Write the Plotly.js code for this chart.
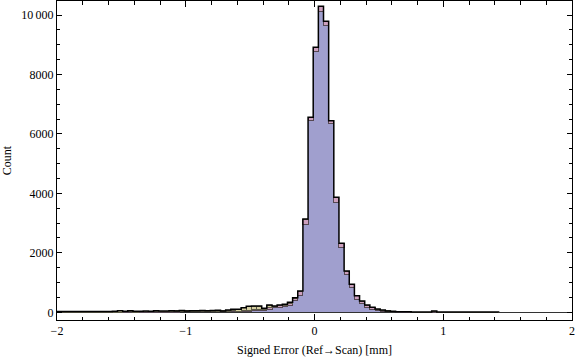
<!DOCTYPE html>
<html>
<head>
<meta charset="utf-8">
<script src="https://cdn.plot.ly/plotly-3.0.1.min.js"></script>
<style>html,body{margin:0;padding:0;background:#fff;}#chart{width:576px;height:359px;}</style>
</head>
<body>
<div id="chart"></div>
<script>
// Histogram bin specification (left edge of first bin, bin width) in mm
var binStart = -2.01;
var binWidth = 0.04;

// Counts per bin, three stacked series
var countsBlue = [3,3,3,4,3,4,4,4,4,5,5,5,5,6,6,6,7,7,8,8,9,9,10,10,11,12,13,14,15,
  16,18,20,20,25,28,22,30,36,45,60,77,110,145,168,188,245,390,582,2970,6468,
  8766,10134,9645,6357,3700,2196,1255,827,447,280,168,100,60,34,20,15,9,7,6,4,
  2,2,2,3,2,2,2,2,2,2,2,2,2,2,2,1];
var countsPink = [3,3,4,3,4,3,3,4,4,3,4,4,4,5,5,4,5,5,5,6,6,6,6,7,7,7,8,8,9,
  9,10,11,10,12,18,18,25,30,35,40,30,40,35,45,50,60,75,105,135,80,
  140,150,140,85,165,122,131,112,108,97,75,66,49,41,22,17,9,8,7,4,
  2,2,2,35,2,2,2,2,2,2,2,2,2,2,2,2];
var countsTan = [22,20,24,18,22,20,20,22,23,19,22,25,45,28,42,24,22,30,26,42,25,28,36,27,42,27,30,32,34,
  30,32,34,15,40,54,60,100,134,132,112,28,95,32,32,31,31,26,29,33,11,
  7,9,5,3,3,3,3,3,3,3,2,2,2,2,2,2,2,2,2,2,
  4,4,4,4,4,4,4,4,4,4,4,4,4,4,4,4];

// Axis tick labels
var xTickVals = [-2,-1,0,1,2];
var xTickText = ["\u22122","\u22121","0","1","2"];
var yTickVals = [0,2000,4000,6000,8000,10000];
var yTickText = ["0","2000","4000","6000","8000","10\u2009000"];

var xTitle = "Signed Error (Ref\u2192Scan) [mm]";
var yTitle = "Count";

var n = countsBlue.length;
var centers = [], edges = [], totals = [];
for (var k = 0; k < n; k++) {
  centers.push(binStart + binWidth * (k + 0.5));
  totals.push(countsBlue[k] + countsPink[k] + countsTan[k]);
}
for (var k = 0; k <= n; k++) edges.push(binStart + binWidth * k);

// step outline of the total
var ox = [edges[0]], oy = [0];
for (var k = 0; k < n; k++) { ox.push(edges[k]); oy.push(totals[k]); }
ox.push(edges[n]); oy.push(totals[n - 1]);
ox.push(edges[n]); oy.push(0);

var font = "Liberation Serif, Times New Roman, serif";

var traces = [
  {type: "bar", x: centers, y: countsBlue, width: binWidth,
   marker: {color: "rgb(160,159,206)", line: {width: 0}}, hoverinfo: "skip"},
  {type: "bar", x: centers, y: countsPink, width: binWidth,
   marker: {color: "rgb(205,160,190)", line: {width: 1, color: "rgb(85,72,82)"}}, hoverinfo: "skip"},
  {type: "bar", x: centers, y: countsTan, width: binWidth,
   marker: {color: "rgb(212,206,160)", line: {width: 1, color: "rgb(92,90,72)"}}, hoverinfo: "skip"},
  {type: "scatter", mode: "lines", x: ox, y: oy,
   line: {shape: "hv", color: "#000", width: 1.5}, hoverinfo: "skip"}
];

var layout = {
  width: 576, height: 359,
  margin: {l: 57, r: 4, t: 1, b: 39},
  paper_bgcolor: "#fff", plot_bgcolor: "#fff",
  showlegend: false,
  barmode: "stack", bargap: 0,
  font: {family: font, size: 12, color: "#000"},
  xaxis: {
    range: [-2, 2],
    tickmode: "array", tickvals: xTickVals, ticktext: xTickText,
    ticks: "inside", ticklen: 6, tickwidth: 1, tickcolor: "#000",
    minor: {dtick: 0.2, tick0: 0, ticks: "inside", ticklen: 3.5, tickcolor: "#000", tickwidth: 1},
    showline: true, linecolor: "#000", linewidth: 1, mirror: "allticks",
    showgrid: false, zeroline: false,
    tickfont: {family: font, size: 12, color: "#000"},
    title: {text: xTitle, font: {family: font, size: 12, color: "#000"}, standoff: 8},
    automargin: false
  },
  yaxis: {
    range: [-259, 10471],
    tickmode: "array", tickvals: yTickVals, ticktext: yTickText,
    ticks: "inside", ticklen: 5, tickwidth: 1, tickcolor: "#000",
    minor: {dtick: 500, tick0: 0, ticks: "inside", ticklen: 3, tickcolor: "#000", tickwidth: 1},
    showline: true, linecolor: "#000", linewidth: 1, mirror: "allticks",
    showgrid: false, zeroline: true, zerolinecolor: "#333", zerolinewidth: 1,
    tickfont: {family: font, size: 12, color: "#000"},
    title: {text: yTitle, font: {family: font, size: 12, color: "#000"}, standoff: 8},
    automargin: false
  }
};

Plotly.newPlot("chart", traces, layout, {displayModeBar: false, staticPlot: true});
</script>
</body>
</html>
